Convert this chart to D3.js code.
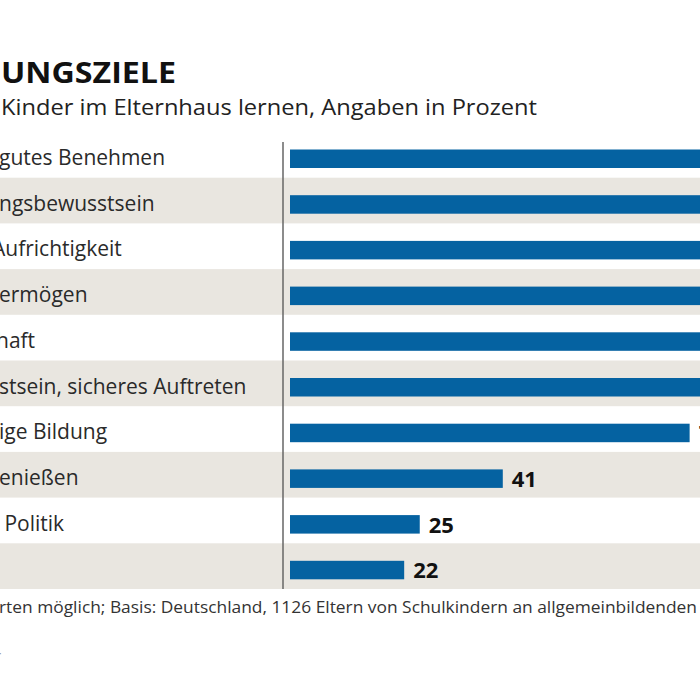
<!DOCTYPE html>
<html>
<head>
<meta charset="utf-8">
<script src="https://cdn.jsdelivr.net/npm/d3@7"></script>
<style>
  html, body { margin: 0; padding: 0; background: #fff; overflow: hidden; }
  svg { display: block; }
</style>
</head>
<body>
<div id="chart"></div>
<script>
// Visible parts of the (cropped) category labels
const categories = [
  "gutes Benehmen",
  "ngsbewusstsein",
  "Aufrichtigkeit",
  "ermögen",
  "haft",
  "stsein, sicheres Auftreten",
  "ige Bildung",
  "enießen",
  " Politik",
  ""
];
// Percent values (first six run past the right edge of the picture)
const values = [89, 87, 86, 84, 82, 80, 77, 41, 25, 22];
const titleText = "UNGSZIELE";
const subtitleText = "Kinder im Elternhaus lernen, Angaben in Prozent";
const footnoteText = "rten möglich; Basis: Deutschland, 1126 Eltern von Schulkindern an allgemeinbildenden";

const W = 700, H = 684;
const data = categories.map((c, i) => ({ cat: c, key: i, value: values[i] }));

const svg = d3.select("#chart").append("svg")
  .attr("width", W).attr("height", H)
  .style("font-family", "'Open Sans', 'Noto Sans', sans-serif");

const x = d3.scaleLinear().domain([0, 100]).range([290, 809]);
const y = d3.scaleBand().domain(data.map(d => d.key)).range([132, 589]).paddingInner(0);
const bw = y.bandwidth();

// Title & subtitle
svg.append("text").attr("x", 1).attr("y", 83)
  .attr("font-size", 29).attr("font-weight", 700).attr("fill", "#111")
  .attr("textLength", 175).attr("lengthAdjust", "spacingAndGlyphs")
  .text(titleText);
svg.append("text").attr("x", 1).attr("y", 115)
  .attr("font-size", 22).attr("fill", "#222")
  .attr("textLength", 536).attr("lengthAdjust", "spacingAndGlyphs")
  .text(subtitleText);

// Alternating row bands
svg.append("g").selectAll("rect").data(data.filter((d, i) => i % 2 === 1)).join("rect")
  .attr("x", 0).attr("width", W)
  .attr("y", d => y(d.key)).attr("height", bw)
  .attr("fill", "#e9e6e0");

// Category labels
svg.append("g").selectAll("text").data(data).join("text")
  .attr("x", d => d.cat.startsWith("Auf") ? -8 : d.cat === "haft" ? -4 : -1)
  .attr("y", d => y(d.key) + 33)
  .attr("font-size", 21).attr("fill", "#2a2a2a")
  .attr("xml:space", "preserve")
  .style("white-space", "pre")
  .text(d => d.cat);

// Bars
const barOff = 17.5, barH = 18.5;
svg.append("g").selectAll("rect").data(data).join("rect")
  .attr("x", x(0)).attr("y", d => y(d.key) + barOff)
  .attr("width", d => x(d.value) - x(0)).attr("height", barH)
  .attr("fill", "#0562a1");

// Value labels
svg.append("g").selectAll("text").data(data).join("text")
  .attr("x", d => x(d.value) + 9)
  .attr("y", d => y(d.key) + barOff + barH - 1)
  .attr("font-size", 22).attr("font-weight", 700).attr("fill", "#111")
  .text(d => d.value);

// Axis line
svg.append("line")
  .attr("x1", 283).attr("x2", 283).attr("y1", 142).attr("y2", 589)
  .attr("stroke", "#666").attr("stroke-width", 1.5);

// Footnote
svg.append("text").attr("x", -1).attr("y", 613)
  .attr("font-size", 16).attr("fill", "#333")
  .attr("textLength", 698).attr("lengthAdjust", "spacingAndGlyphs")
  .text(footnoteText);

// partially visible source mark
svg.append("text").attr("x", -9).attr("y", 666)
  .attr("font-size", 18).attr("fill", "#999")
  .text("T");
</script>
</body>
</html>
